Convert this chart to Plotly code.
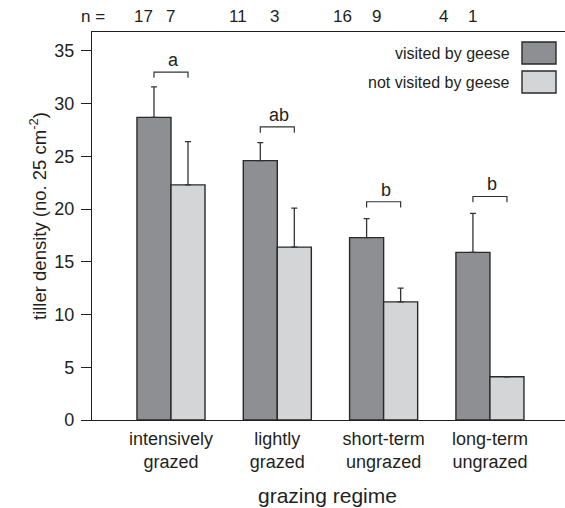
import plotly.graph_objects as go

# ---- data ----
categories = ["intensively<br>grazed", "lightly<br>grazed", "short-term<br>ungrazed", "long-term<br>ungrazed"]
visited = [28.7, 24.6, 17.3, 15.9]
visited_err = [2.9, 1.7, 1.8, 3.7]
not_visited = [22.3, 16.4, 11.2, 4.1]
not_visited_err = [4.1, 3.7, 1.3, 0.0]
n_visited = [17, 11, 16, 4]
n_not_visited = [7, 3, 9, 1]
letters = ["a", "ab", "b", "b"]
bracket_y = [33.0, 27.8, 20.7, 21.2]

# ---- layout constants ----
FONT = "Arial, Liberation Sans, sans-serif"
TXT = "#231f20"
DARK = "#8e8f93"
LIGHT = "#d4d5d7"
EDGE = "#2a2a2a"
x = list(range(len(categories)))
# x positions of n-labels in category units (as set in the original)
n_vis_x = [-0.26, -0.37, -0.39, -0.44]
n_not_x = [0.0, -0.03, -0.07, -0.16]
half = 0.16  # half of a bar width in category units

fig = go.Figure()
fig.add_trace(go.Bar(
    x=x, y=visited, name="visited by geese", marker=dict(color=DARK, line=dict(color=EDGE, width=1.4)),
    error_y=dict(type="data", symmetric=False, array=visited_err, arrayminus=[0]*4,
                 color="#333333", thickness=1.3, width=3),
    showlegend=False, hoverinfo="skip"))
fig.add_trace(go.Bar(
    x=x, y=not_visited, name="not visited by geese", marker=dict(color=LIGHT, line=dict(color=EDGE, width=1.4)),
    error_y=dict(type="data", symmetric=False, array=not_visited_err, arrayminus=[0]*4,
                 color="#333333", thickness=1.3, width=3, visible=True),
    showlegend=False, hoverinfo="skip"))

shapes = []
annotations = []
# significance brackets
for i, (lt, by) in enumerate(zip(letters, bracket_y)):
    x0, x1 = i - half, i + half
    leg = 0.55
    shapes.append(dict(type="path", xref="x", yref="y",
                       path=f"M {x0} {by-leg} L {x0} {by} L {x1} {by} L {x1} {by-leg}",
                       line=dict(color="#333333", width=1.2)))
    annotations.append(dict(x=i + 0.02, y=by, xref="x", yref="y", text=lt, showarrow=False,
                            yanchor="bottom", yshift=0, font=dict(size=18, color=TXT, family=FONT)))

# n labels
annotations.append(dict(x=-0.735, y=1.0, xref="x", yref="paper", text="n =", showarrow=False,
                        yanchor="bottom", yshift=4, font=dict(size=17, color=TXT, family=FONT)))
for i in range(len(categories)):
    annotations.append(dict(x=i + n_vis_x[i], y=1.0, xref="x", yref="paper", text=str(n_visited[i]),
                            showarrow=False, yanchor="bottom", yshift=4, font=dict(size=17, color=TXT, family=FONT)))
    annotations.append(dict(x=i + n_not_x[i], y=1.0, xref="x", yref="paper", text=str(n_not_visited[i]),
                            showarrow=False, yanchor="bottom", yshift=4, font=dict(size=17, color=TXT, family=FONT)))

# custom legend (paper coords)
W, H = 565, 508
leg_items = [("visited by geese", DARK, 42, 64), ("not visited by geese", LIGHT, 71, 93)]
for label, col, y0, y1 in leg_items:
    shapes.append(dict(type="rect", xref="paper", yref="paper", x0=(522-92)/(565-92), x1=(556-92)/(565-92),
                       y0=(420-y1)/388, y1=(420-y0)/388, fillcolor=col, line=dict(color=EDGE, width=1.4)))
    annotations.append(dict(x=(512-92)/(565-92), y=(420-(y0+y1)/2)/388, xref="paper", yref="paper",
                            text=label, showarrow=False, xanchor="right", yanchor="middle",
                            font=dict(size=16, color=TXT, family=FONT)))

# axis titles
annotations.append(dict(x=(24-92)/(565-92), y=(420-216)/388, xref="paper", yref="paper", textangle=-90,
                        text="tiller density (no. 25 cm<sup>-2</sup>)", showarrow=False,
                        font=dict(size=18.5, color=TXT, family=FONT)))
annotations.append(dict(x=(327-92)/(565-92), y=(420-495)/388, xref="paper", yref="paper",
                        text="grazing regime", showarrow=False, yanchor="middle",
                        font=dict(size=21, color=TXT, family=FONT)))

fig.update_layout(
    width=W, height=H,
    margin=dict(l=92, r=0, t=32, b=88),
    paper_bgcolor="white", plot_bgcolor="white",
    barmode="group", bargap=0.36, bargroupgap=0,
    font=dict(family=FONT, color=TXT, size=16),
    shapes=shapes, annotations=annotations,
    xaxis=dict(range=[-0.743, 3.706], tickvals=x, ticktext=categories, showline=True, mirror=True,
               linecolor=TXT, linewidth=1.3, ticks="", showgrid=False, zeroline=False,
               ticklabelstandoff=2,
               tickfont=dict(size=18, color=TXT, family=FONT)),
    yaxis=dict(range=[0, 36.8], tickvals=[0, 5, 10, 15, 20, 25, 30, 35], showline=True, linecolor=TXT,
               linewidth=1.3, ticks="outside", ticklen=10, tickcolor=TXT, tickwidth=1.2,
               ticklabelstandoff=3,
               showgrid=False, zeroline=False, tickfont=dict(size=18, color=TXT, family=FONT)),
)

fig.write_html("out.html", config={"displayModeBar": False},
               post_script="document.body.style.margin='0px';document.body.style.overflow='hidden';")
